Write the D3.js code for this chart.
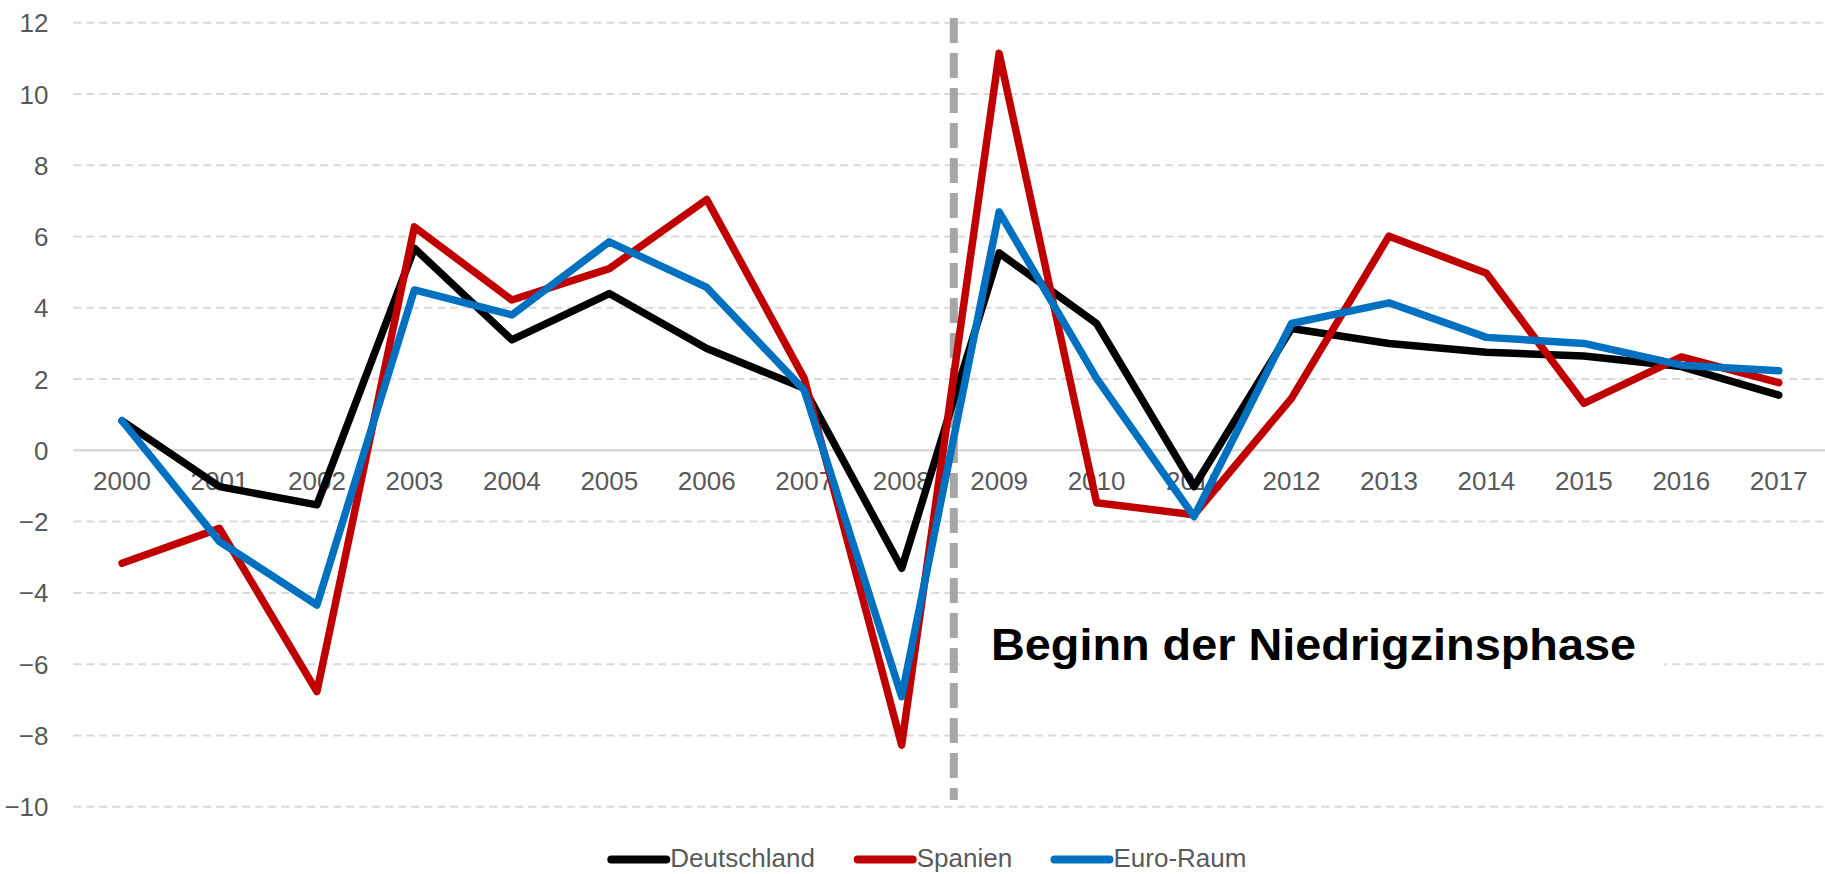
<!DOCTYPE html>
<html>
<head>
<meta charset="utf-8">
<script src="https://cdn.jsdelivr.net/npm/d3@7"></script>
<style>
  html, body { margin: 0; padding: 0; background: #fff; }
  svg { display: block; font-family: "Liberation Sans", Arial, sans-serif; }
</style>
</head>
<body>
<svg id="chart" width="1825" height="874"></svg>
<script>
const years = ["2000","2001","2002","2003","2004","2005","2006","2007","2008","2009","2010","2011","2012","2013","2014","2015","2016","2017"];
const deutschland = [0.83, -1.02, -1.53, 5.67, 3.1, 4.4, 2.86, 1.74, -3.31, 5.54, 3.56, -1.02, 3.42, 3.0, 2.75, 2.65, 2.35, 1.55];
const spanien     = [-3.17, -2.19, -6.77, 6.27, 4.22, 5.1, 7.04, 2.02, -8.27, 11.14, -1.47, -1.81, 1.46, 6.01, 4.97, 1.32, 2.62, 1.9];
const euroRaum    = [0.83, -2.56, -4.34, 4.5, 3.8, 5.85, 4.57, 1.69, -6.91, 6.69, 2.02, -1.86, 3.56, 4.14, 3.17, 3.0, 2.39, 2.23];
const yTicks = [-10, -8, -6, -4, -2, 0, 2, 4, 6, 8, 10, 12];
const seriesNames = ["Deutschland", "Spanien", "Euro-Raum"];
const seriesColors = ["#000000", "#c00000", "#0070c0"];
const annotation = "Beginn der Niedrigzinsphase";

const seriesValues = [deutschland, spanien, euroRaum];
const series = seriesNames.map((n, i) => ({ name: n, color: seriesColors[i], values: seriesValues[i] }));

const svg = d3.select("#chart");

const x = d3.scaleBand().domain(years).range([73.3, 1827.5]).paddingInner(0).paddingOuter(0);
const y = d3.scaleLinear().domain([-10, 12]).range([806.7, 22.7]);
const cx = d => x(d) + x.bandwidth() / 2;

// gridlines
const grid = svg.append("g");
grid.selectAll("line.grid").data(yTicks.filter(t => t !== 0)).enter().append("line")
  .attr("x1", 73.3).attr("x2", 1825)
  .attr("y1", d => y(d)).attr("y2", d => y(d))
  .attr("stroke", "#d9d9d9").attr("stroke-width", 2)
  .attr("stroke-dasharray", "8,5");
// zero line
grid.append("line")
  .attr("x1", 73.3).attr("x2", 1825)
  .attr("y1", y(0)).attr("y2", y(0))
  .attr("stroke", "#d9d9d9").attr("stroke-width", 2.5);

// y axis labels
const yAxis = d3.axisLeft(y).tickValues(yTicks).tickSize(0).tickPadding(0).tickFormat(d3.format("d"));
const yg = svg.append("g").attr("transform", "translate(48.5,0)").call(yAxis);
yg.select(".domain").remove();
yg.selectAll("text")
  .attr("font-size", 26).attr("fill", "#595959")
  .attr("font-family", "Liberation Sans, Arial, sans-serif")
  .attr("x", 0).attr("dy", "0.35em");

// x axis labels
const xAxis = d3.axisBottom(x).tickSize(0).tickPadding(0);
const xg = svg.append("g").attr("transform", `translate(0,${y(0)})`).call(xAxis);
xg.select(".domain").remove();
xg.selectAll("text")
  .attr("font-size", 26).attr("fill", "#595959")
  .attr("font-family", "Liberation Sans, Arial, sans-serif")
  .attr("y", 39.7).attr("dy", 0);

// annotation background + text
const vx = x("2008") + x.bandwidth() * 1.035;
svg.append("rect")
  .attr("x", vx + 6).attr("y", 606).attr("width", 1664 - vx - 6).attr("height", 108)
  .attr("fill", "#ffffff");

// vertical dashed line
svg.append("line")
  .attr("x1", vx).attr("x2", vx)
  .attr("y1", 18).attr("y2", 800)
  .attr("stroke", "#a6a6a6").attr("stroke-width", 8)
  .attr("stroke-dasharray", "25,10");

svg.append("text")
  .attr("x", 991).attr("y", 660)
  .attr("font-size", 45).attr("font-weight", "bold").attr("fill", "#000")
  .attr("textLength", 645).attr("lengthAdjust", "spacingAndGlyphs")
  .text(annotation);

// lines
const line = d3.line().x((d, i) => cx(years[i])).y(d => y(d));
svg.append("g").selectAll("path").data(series).enter().append("path")
  .attr("d", d => line(d.values))
  .attr("fill", "none")
  .attr("stroke", d => d.color)
  .attr("stroke-width", 7.5)
  .attr("stroke-linejoin", "round")
  .attr("stroke-linecap", "round");

// legend
const legendX = [607.3, 853.7, 1050.5];
const lg = svg.append("g");
series.forEach((s, i) => {
  const g = lg.append("g").attr("transform", `translate(${legendX[i]},859.5)`);
  g.append("line").attr("x1", 4).attr("x2", 59).attr("y1", 0).attr("y2", 0)
    .attr("stroke", s.color).attr("stroke-width", 8).attr("stroke-linecap", "round");
  g.append("text").attr("x", 63).attr("y", 7.7)
    .attr("font-size", 26).attr("fill", "#595959")
    .text(s.name);
});
</script>
</body>
</html>
